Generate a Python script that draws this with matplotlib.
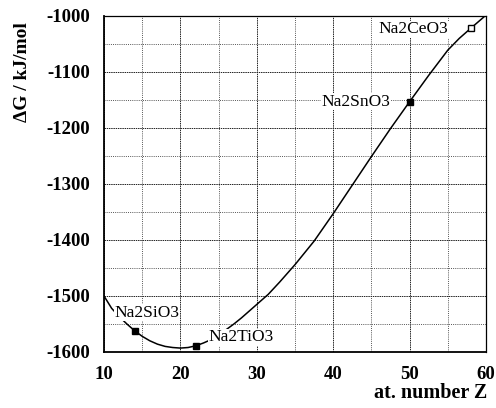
import matplotlib
matplotlib.use("Agg")
import matplotlib.pyplot as plt

plt.rcParams["axes.unicode_minus"] = False

# free energy curve vs atomic number
z = [10, 11, 12, 13, 14, 15, 16, 17, 18, 19, 20, 21, 22, 23, 24, 25, 26, 27,
     28, 29, 30, 31.5, 33, 35, 37.5, 40, 42.5, 45, 47.5, 50, 52.5, 54, 55, 56.5, 58, 59.7]
dg = [-1500, -1522, -1537, -1550, -1562, -1572, -1580, -1586, -1590, -1592,
      -1593, -1592, -1589, -1584, -1578, -1569, -1560, -1550, -1539, -1527,
      -1515, -1497, -1475, -1444, -1402, -1353, -1302, -1251, -1201, -1153,
      -1106, -1079, -1061, -1040, -1022, -1002]

# compounds
names = ["Na2SiO3", "Na2TiO3", "Na2SnO3", "Na2CeO3"]
z_pts = [14, 22, 50, 58]
dg_pts = [-1563, -1589, -1153, -1022]
filled = [True, True, True, False]
label_pos = [(11.4, -1530), (23.7, -1574), (38.5, -1153), (45.9, -1024)]

serif = "Liberation Serif"

fig = plt.figure(figsize=(4.96, 4.08), dpi=100)
ax = fig.add_axes([104/496, 1-352/408, 382/496, 336/408])

ax.plot(z, dg, color="black", lw=1.1, zorder=3)
for x, y, f in zip(z_pts, dg_pts, filled):
    ax.plot(x, y, marker="s", ms=5, mfc="black" if f else "white",
            mec="black", mew=1.0, zorder=5)

for name, (tx, ty) in zip(names, label_pos):
    ax.text(tx, ty, name, ha="left", va="center", fontsize=12.5,
            family=serif, zorder=4,
            bbox=dict(facecolor="white", edgecolor="none", pad=0.5))

ax.set_xlim(10, 60)
ax.set_ylim(-1600, -1000)
ax.set_xticks(range(10, 61, 10))
ax.set_yticks(range(-1600, -999, 100))
ax.set_xticks(range(15, 60, 10), minor=True)
ax.set_yticks(range(-1550, -1000, 100), minor=True)
ax.grid(True, which="major", color="#222222", lw=0.7, ls=(0, (1.5, 0.8)))
ax.grid(True, which="minor", color="#555555", lw=0.7, ls=(0, (1, 1.2)))
ax.set_axisbelow(True)
ax.tick_params(which="both", length=0)
ax.tick_params(axis="y", pad=10)
ax.tick_params(axis="x", pad=10)
for lab in ax.get_xticklabels() + ax.get_yticklabels():
    lab.set_family(serif)
    lab.set_fontweight("bold")
    lab.set_fontsize(13.5)

ax.spines["left"].set_linewidth(1.3)
ax.spines["bottom"].set_linewidth(1.3)
ax.spines["top"].set_linewidth(0.9)
ax.spines["right"].set_linewidth(0.9)

fig.text(23/496, 1-72/408, "ΔG / kJ/mol", rotation=90, ha="center", va="center",
         fontsize=14, fontweight="bold", family=serif)
fig.text(487/496, 1-393/408, "at. number Z", ha="right", va="center",
         fontsize=14.5, fontweight="bold", family=serif)

fig.savefig("out.png", dpi=100)
